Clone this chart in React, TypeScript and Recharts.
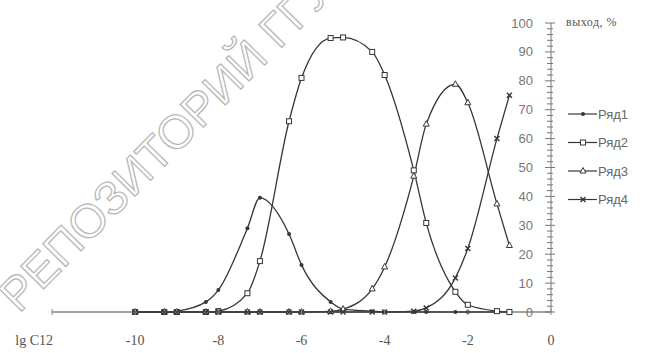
import React from 'react';
import { LineChart, Line, XAxis, YAxis, Legend } from 'recharts';

// lg C values (grid of 1·10^n and 5·10^n)
const lgC = [-10, -9.3, -9, -8.3, -8, -7.3, -7, -6.3, -6, -5.3, -5, -4.3, -4, -3.3, -3, -2.3, -2, -1.3, -1];

const ryad1 = [0, 0, 0.3, 3.5, 7.6, 29, 39.5, 27, 16.3, 3.5, 1, 0.3, 0, 0, 0, 0, 0, 0, 0];
const ryad2 = [0, 0, 0, 0, 0.3, 6.5, 17.6, 66, 81, 94.8, 95, 90, 82, 49, 30.8, 7, 2.5, 0.3, 0];
const ryad3 = [0, 0, 0, 0, 0, 0, 0, 0, 0, 0.2, 1, 8, 15.6, 47, 65, 78.8, 72.4, 37.4, 23];
const ryad4 = [0, 0, 0, 0, 0, 0, 0, 0, 0, 0, 0, 0, 0, 0.3, 1.4, 11.8, 22, 60, 75];

const seriesNames = ['Ряд1', 'Ряд2', 'Ряд3', 'Ряд4'];
const xTicks = [-12, -10, -8, -6, -4, -2, 0];
const yTicks = Array.from({ length: 51 }, (_, i) => i * 2);

const data = lgC.map((x, i) => ({ x, s1: ryad1[i], s2: ryad2[i], s3: ryad3[i], s4: ryad4[i] }));

const INK = '#363636';

function Marker({ kind, cx, cy }: { kind: number; cx: number; cy: number }) {
  if (cx == null || cy == null) return null;
  if (kind === 0) return <circle cx={cx} cy={cy} r={2} fill={INK} />;
  if (kind === 1)
    return <rect x={cx - 2.5} y={cy - 2.5} width={5} height={5} fill="#fff" stroke={INK} strokeWidth={1} />;
  if (kind === 2)
    return (
      <polygon
        points={`${cx},${cy - 3.5} ${cx + 3},${cy + 2} ${cx - 3},${cy + 2}`}
        fill="#fff"
        stroke={INK}
        strokeWidth={1}
      />
    );
  return (
    <g stroke={INK} strokeWidth={1.4}>
      <line x1={cx - 2.5} y1={cy - 2.5} x2={cx + 2.5} y2={cy + 2.5} />
      <line x1={cx - 2.5} y1={cy + 2.5} x2={cx + 2.5} y2={cy - 2.5} />
    </g>
  );
}

const makeDot = (kind: number) => (props: any) => (
  <Marker key={`${kind}-${props.index}`} kind={kind} cx={props.cx} cy={props.cy} />
);

function XTick({ x, y, payload }: any) {
  const v = payload.value;
  return (
    <g>
      <line x1={x} x2={x} y1={y - 3} y2={y + 3} stroke="#888" />
      {v === -12 ? (
        <text x={x + 1} y={y + 33} textAnchor="end" fontFamily="Liberation Serif" fontSize={14} fill="#555">
          lg C12
        </text>
      ) : (
        <text x={x} y={y + 33} textAnchor="middle" fontFamily="Liberation Serif" fontSize={14} fill="#555">
          {v}
        </text>
      )}
    </g>
  );
}

function YTick({ x, y, payload }: any) {
  const v = payload.value;
  const major = v % 10 === 0;
  const ax = x - 1;
  return (
    <g>
      <line x1={ax - (major ? 5 : 3)} x2={ax + (major ? 5 : 3)} y1={y} y2={y} stroke="#777" />
      {major && (
        <text x={ax - 17} y={y} dy="0.35em" textAnchor="end" fontFamily="Liberation Sans" fontSize={13} fill="#777">
          {v}
        </text>
      )}
    </g>
  );
}

function LegendBox() {
  return (
    <svg width={82} height={120}>
      {seriesNames.map((name, i) => (
        <g key={name} transform={`translate(0, ${i * 28.5 + 8})`}>
          <line x1={2} x2={31} y1={0} y2={0} stroke={INK} strokeWidth={1.2} />
          <Marker kind={i} cx={17} cy={0} />
          <text x={32} y={0} dy="0.35em" fontFamily="Liberation Sans" fontSize={13} fill="#666">
            {name}
          </text>
        </g>
      ))}
    </svg>
  );
}

export default function App() {
  return (
    <div style={{ position: 'absolute', left: 0, top: 0, width: 648, height: 353, background: '#fff' }}>
      <svg width={648} height={353} style={{ position: 'absolute', left: 0, top: 0, pointerEvents: 'none' }}>
        <text
          x={19}
          y={314}
          transform="rotate(-45.4 19 314)"
          fontFamily="Liberation Sans"
          fontSize={47}
          fill="none"
          stroke="#b5b5b5"
          strokeWidth={1.2}
        >
          РЕПОЗИТОРИЙ ГГУ
        </text>
      </svg>
      <LineChart
        width={648}
        height={353}
        data={data}
        margin={{ top: 23, right: 96, bottom: 0, left: 52 }}
        style={{ position: 'absolute', left: 0, top: 0 }}
      >
        <XAxis
          dataKey="x"
          type="number"
          domain={[-12, 0]}
          ticks={xTicks}
          interval={0}
          height={41}
          tickSize={0}
          tickMargin={0}
          tickLine={false}
          axisLine={{ stroke: '#444', strokeWidth: 1.2 }}
          tick={<XTick />}
        />
        <YAxis
          orientation="right"
          type="number"
          domain={[0, 100]}
          ticks={yTicks}
          interval={0}
          width={1}
          tickSize={0}
          tickMargin={0}
          tickLine={false}
          axisLine={{ stroke: '#777' }}
          tick={<YTick />}
        />
        <Legend
          layout="vertical"
          align="center"
          verticalAlign="middle"
          wrapperStyle={{ left: 566, top: 106, width: 82 }}
          content={() => <LegendBox />}
        />
        <Line type="monotone" dataKey="s1" name={seriesNames[0]} stroke={INK} strokeWidth={1.3} dot={makeDot(0)} activeDot={false} isAnimationActive={false} />
        <Line type="monotone" dataKey="s2" name={seriesNames[1]} stroke={INK} strokeWidth={1.3} dot={makeDot(1)} activeDot={false} isAnimationActive={false} />
        <Line type="monotone" dataKey="s3" name={seriesNames[2]} stroke={INK} strokeWidth={1.3} dot={makeDot(2)} activeDot={false} isAnimationActive={false} />
        <Line type="monotone" dataKey="s4" name={seriesNames[3]} stroke={INK} strokeWidth={1.3} dot={makeDot(3)} activeDot={false} isAnimationActive={false} />
      </LineChart>
      <svg width={648} height={353} style={{ position: 'absolute', left: 0, top: 0, pointerEvents: 'none' }}>
        <text x={566} y={26} fontFamily="Liberation Serif" fontSize={12} fill="#555" letterSpacing={0.5}>
          выход, %
        </text>
      </svg>
    </div>
  );
}
